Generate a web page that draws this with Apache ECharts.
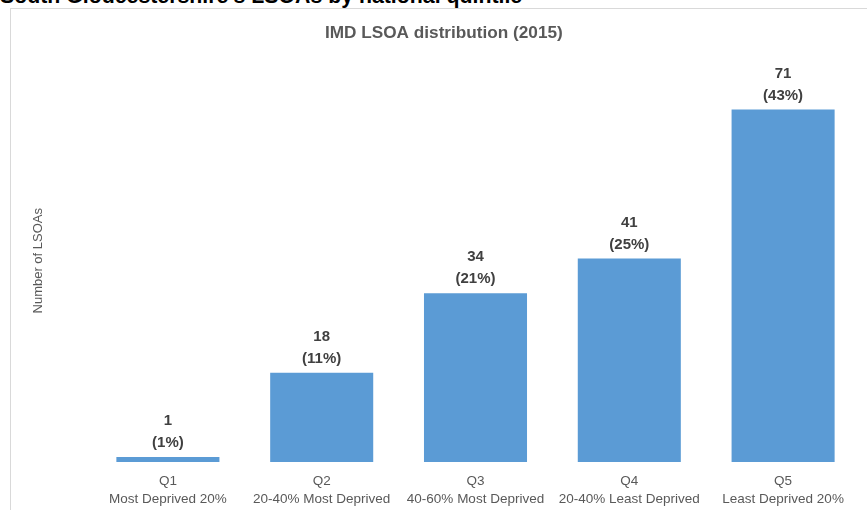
<!DOCTYPE html>
<html>
<head>
<meta charset="utf-8">
<script src="https://cdn.jsdelivr.net/npm/echarts@6/dist/echarts.min.js"></script>
<style>
  html, body { margin: 0; padding: 0; background: #fff; overflow: hidden; }
  #wrap { position: relative; width: 867px; height: 510px; overflow: hidden; }
  #header { position: absolute; left: 0px; top: -16px; font: bold 21.3px/24px "Liberation Sans", Arial, sans-serif; color: #000; white-space: nowrap; }
  #frame { position: absolute; left: 10px; top: 8px; width: 900px; height: 560px; border: 1px solid #d9d9d9; box-sizing: border-box; }
  #chart { position: absolute; left: 0; top: 0; width: 867px; height: 510px; }
</style>
</head>
<body>
<div id="wrap">
  <div id="header">South Gloucestershire's LSOAs by national quintile</div>
  <div id="frame"></div>
  <div id="chart"></div>
</div>
<script>
const quintiles = ['Q1', 'Q2', 'Q3', 'Q4', 'Q5'];
const quintileNames = ['Most Deprived 20%', '20-40% Most Deprived', '40-60% Most Deprived', '20-40% Least Deprived', 'Least Deprived 20%'];
const lsoaCounts = [1, 18, 34, 41, 71];
const lsoaShares = ['1%', '11%', '21%', '25%', '43%'];

const categories = quintiles.map((q, i) => q + '\n' + quintileNames[i]);

const chart = echarts.init(document.getElementById('chart'), null, { renderer: 'canvas' });
chart.setOption({
  animation: false,
  textStyle: { fontFamily: '"Liberation Sans", Arial, sans-serif' },
  title: {
    text: 'IMD LSOA distribution (2015)',
    left: 320,
    top: 20,
    textStyle: { fontSize: 17.2, fontWeight: 'bold', color: '#595959', fontFamily: '"Liberation Sans", Arial, sans-serif' }
  },
  grid: { left: 91, right: 7, top: 40, bottom: 48, containLabel: false },
  xAxis: {
    type: 'category',
    data: categories,
    axisLine: { show: false },
    axisTick: { show: false },
    axisLabel: { color: '#595959', fontSize: 13.5, lineHeight: 18.5, margin: 10, interval: 0 }
  },
  yAxis: {
    type: 'value',
    min: 0,
    max: 85,
    axisLine: { show: false },
    axisTick: { show: false },
    axisLabel: { show: false },
    splitLine: { show: false }
  },
  graphic: [{
    type: 'text',
    left: 32,
    top: 208,
    rotation: Math.PI / 2,
    style: { text: 'Number of LSOAs', fill: '#595959', fontSize: 13, fontFamily: '"Liberation Sans", Arial, sans-serif' }
  }],
  series: [{
    type: 'bar',
    data: lsoaCounts,
    barCategoryGap: '33%',
    itemStyle: { color: '#5B9BD5' },
    label: {
      show: true,
      position: 'top',
      distance: 3,
      color: '#404040',
      fontSize: 15,
      fontWeight: 'bold',
      lineHeight: 22,
      formatter: p => p.value + '\n(' + lsoaShares[p.dataIndex] + ')'
    }
  }]
});
</script>
</body>
</html>
